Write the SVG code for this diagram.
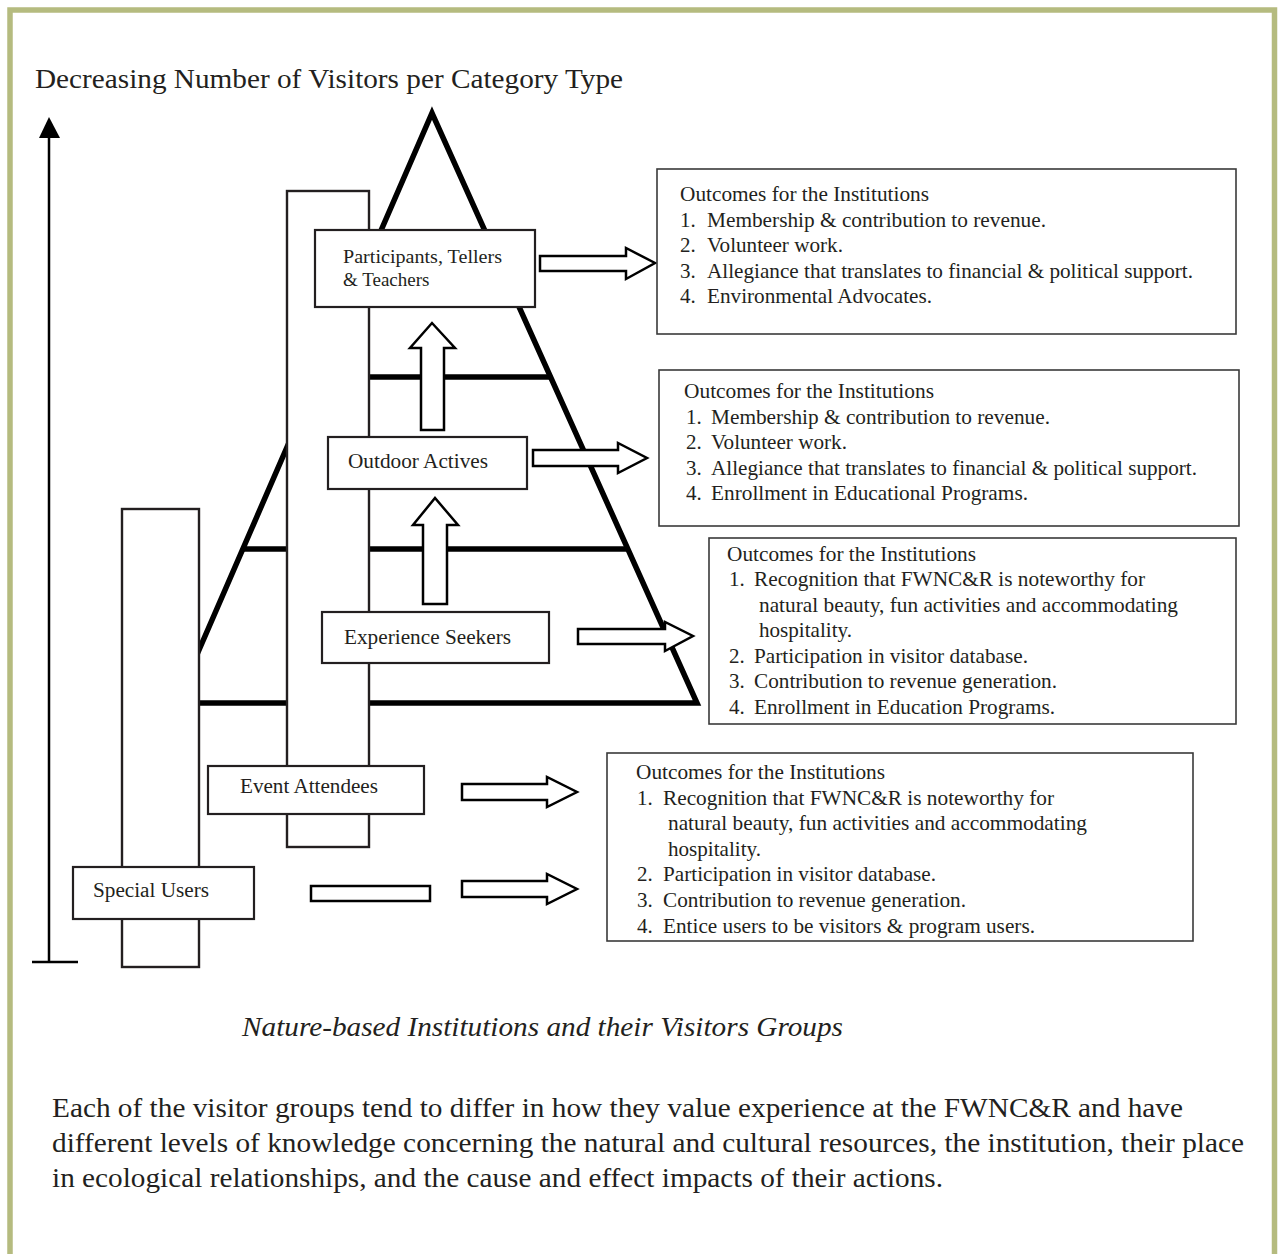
<svg xmlns="http://www.w3.org/2000/svg" width="1282" height="1254" viewBox="0 0 1282 1254">
<defs>
<style>
.t{font-family:"Liberation Serif","Times New Roman",serif;fill:#231f20}
.o{font-size:21px}
.lbl{font-size:20px}
.box{fill:#fff;stroke:#231f20;stroke-width:2.2}
.col{fill:#fff;stroke:#231f20;stroke-width:2.4}
.pyr{stroke:#000;stroke-width:5.5;fill:none}
.arr{fill:#fff;stroke:#000;stroke-width:2.5;stroke-linejoin:miter}
.ob{fill:#fff;stroke:#3a3a3a;stroke-width:1.6}
</style>
</defs>
<rect x="0" y="0" width="1282" height="1254" fill="#fff"/>
<rect x="10" y="10" width="1264.5" height="1300" fill="none" stroke="#b5bb7f" stroke-width="5.5"/>

<text class="t" x="35" y="88" font-size="27" textLength="588" lengthAdjust="spacingAndGlyphs">Decreasing Number of Visitors per Category Type</text>

<g id="axis">
<line x1="49" y1="134" x2="49" y2="962" stroke="#000" stroke-width="2.5"/>
<polygon points="49,117 39,138 60,138" fill="#000"/>
<line x1="32" y1="962" x2="78" y2="962" stroke="#000" stroke-width="2.5"/>
</g>

<g id="pyramid">
<polyline class="pyr" points="176,703 432,113 697,703 170,703" stroke-linejoin="miter"/>
<line class="pyr" x1="300" y1="377" x2="549" y2="377" stroke-width="4.5"/>
<line class="pyr" x1="242" y1="549" x2="626" y2="549" stroke-width="4.5"/>
</g>

<g id="columns">
<rect class="col" x="287" y="191" width="82" height="656"/>
<rect class="col" x="122" y="509" width="77" height="458"/>
</g>

<g id="connectors">
<polygon class="arr" points="540,256 626,256 626,248 655,263 626,279 626,271 540,271"/>
<polygon class="arr" points="533,450 618,450 618,443 647,458 618,473 618,466 533,466"/>
<polygon class="arr" points="578,629 665,629 665,622 693,636 665,651 665,644 578,644"/>
<polygon class="arr" points="462,784 547,784 547,777 577,792 547,807 547,800 462,800"/>
<polygon class="arr" points="462,881 547,881 547,874 577,889 547,904 547,897 462,897"/>
<polygon class="arr" points="421,430 421,348 410,348 432,323 455,348 444,348 444,430"/>
<polygon class="arr" points="423,604 423,525 413,525 435,498 458,525 447,525 447,604"/>
<rect class="arr" x="311" y="886" width="119" height="15"/>
</g>

<g id="node-participants">
<rect class="box" x="315" y="230" width="220" height="77"/>
<text class="t" x="343" y="263" font-size="19" textLength="159" lengthAdjust="spacingAndGlyphs">Participants, Tellers</text>
<text class="t" x="343" y="286" font-size="19">&amp; Teachers</text>
</g>
<g id="node-outdoor">
<rect class="box" x="328" y="437" width="199" height="52"/>
<text class="t lbl" x="348" y="468" textLength="140" lengthAdjust="spacingAndGlyphs">Outdoor Actives</text>
</g>
<g id="node-experience">
<rect class="box" x="322" y="612" width="227" height="51"/>
<text class="t lbl" x="344" y="644" textLength="167" lengthAdjust="spacingAndGlyphs">Experience Seekers</text>
</g>
<g id="node-event">
<rect class="box" x="208" y="766" width="216" height="48"/>
<text class="t lbl" x="240" y="793" textLength="138" lengthAdjust="spacingAndGlyphs">Event Attendees</text>
</g>
<g id="node-special">
<rect class="box" x="73" y="867" width="181" height="52"/>
<text class="t lbl" x="93" y="897" textLength="116" lengthAdjust="spacingAndGlyphs">Special Users</text>
</g>

<g id="outcome-1">
<rect class="ob" x="657" y="169" width="579" height="165"/>
<text class="t o" x="680" y="201" textLength="249" lengthAdjust="spacingAndGlyphs">Outcomes for the Institutions</text>
<text class="t o" x="680" y="227">1.</text><text class="t o" x="707" y="227" textLength="339" lengthAdjust="spacingAndGlyphs">Membership &amp; contribution to revenue.</text>
<text class="t o" x="680" y="252">2.</text><text class="t o" x="707" y="252" textLength="136" lengthAdjust="spacingAndGlyphs">Volunteer work.</text>
<text class="t o" x="680" y="278">3.</text><text class="t o" x="707" y="278" textLength="486" lengthAdjust="spacingAndGlyphs">Allegiance that translates to financial &amp; political support.</text>
<text class="t o" x="680" y="303">4.</text><text class="t o" x="707" y="303" textLength="225" lengthAdjust="spacingAndGlyphs">Environmental Advocates.</text>
</g>

<g id="outcome-2">
<rect class="ob" x="659" y="370" width="580" height="156"/>
<text class="t o" x="684" y="398" textLength="250" lengthAdjust="spacingAndGlyphs">Outcomes for the Institutions</text>
<text class="t o" x="686" y="424">1.</text><text class="t o" x="711" y="424" textLength="339" lengthAdjust="spacingAndGlyphs">Membership &amp; contribution to revenue.</text>
<text class="t o" x="686" y="449">2.</text><text class="t o" x="711" y="449" textLength="136" lengthAdjust="spacingAndGlyphs">Volunteer work.</text>
<text class="t o" x="686" y="475">3.</text><text class="t o" x="711" y="475" textLength="486" lengthAdjust="spacingAndGlyphs">Allegiance that translates to financial &amp; political support.</text>
<text class="t o" x="686" y="500">4.</text><text class="t o" x="711" y="500" textLength="317" lengthAdjust="spacingAndGlyphs">Enrollment in Educational Programs.</text>
</g>

<g id="outcome-3">
<rect class="ob" x="709" y="538" width="527" height="186"/>
<text class="t o" x="727" y="561" textLength="249" lengthAdjust="spacingAndGlyphs">Outcomes for the Institutions</text>
<text class="t o" x="729" y="586">1.</text><text class="t o" x="754" y="586" textLength="391" lengthAdjust="spacingAndGlyphs">Recognition that FWNC&amp;R is noteworthy for</text>
<text class="t o" x="759" y="612" textLength="419" lengthAdjust="spacingAndGlyphs">natural beauty, fun activities and accommodating</text>
<text class="t o" x="759" y="637" textLength="93" lengthAdjust="spacingAndGlyphs">hospitality.</text>
<text class="t o" x="729" y="663">2.</text><text class="t o" x="754" y="663" textLength="274" lengthAdjust="spacingAndGlyphs">Participation in visitor database.</text>
<text class="t o" x="729" y="688">3.</text><text class="t o" x="754" y="688" textLength="303" lengthAdjust="spacingAndGlyphs">Contribution to revenue generation.</text>
<text class="t o" x="729" y="714">4.</text><text class="t o" x="754" y="714" textLength="301" lengthAdjust="spacingAndGlyphs">Enrollment in Education Programs.</text>
</g>

<g id="outcome-4">
<rect class="ob" x="607" y="753" width="586" height="188"/>
<text class="t o" x="636" y="779" textLength="249" lengthAdjust="spacingAndGlyphs">Outcomes for the Institutions</text>
<text class="t o" x="637" y="805">1.</text><text class="t o" x="663" y="805" textLength="391" lengthAdjust="spacingAndGlyphs">Recognition that FWNC&amp;R is noteworthy for</text>
<text class="t o" x="668" y="830" textLength="419" lengthAdjust="spacingAndGlyphs">natural beauty, fun activities and accommodating</text>
<text class="t o" x="668" y="856" textLength="93" lengthAdjust="spacingAndGlyphs">hospitality.</text>
<text class="t o" x="637" y="881">2.</text><text class="t o" x="663" y="881" textLength="273" lengthAdjust="spacingAndGlyphs">Participation in visitor database.</text>
<text class="t o" x="637" y="907">3.</text><text class="t o" x="663" y="907" textLength="303" lengthAdjust="spacingAndGlyphs">Contribution to revenue generation.</text>
<text class="t o" x="637" y="933">4.</text><text class="t o" x="663" y="933" textLength="372" lengthAdjust="spacingAndGlyphs">Entice users to be visitors &amp; program users.</text>
</g>

<text class="t" x="242" y="1036" font-size="28" font-style="italic" textLength="601" lengthAdjust="spacingAndGlyphs">Nature-based Institutions and their Visitors Groups</text>

<g id="paragraph" class="t" font-size="28">
<text x="52" y="1117" textLength="1131" lengthAdjust="spacingAndGlyphs">Each of the visitor groups tend to differ in how they value experience at the FWNC&amp;R and have</text>
<text x="52" y="1152" textLength="1192" lengthAdjust="spacingAndGlyphs">different levels of knowledge concerning the natural and cultural resources, the institution, their place</text>
<text x="52" y="1187" textLength="891" lengthAdjust="spacingAndGlyphs">in ecological relationships, and the cause and effect impacts of their actions.</text>
</g>
</svg>
